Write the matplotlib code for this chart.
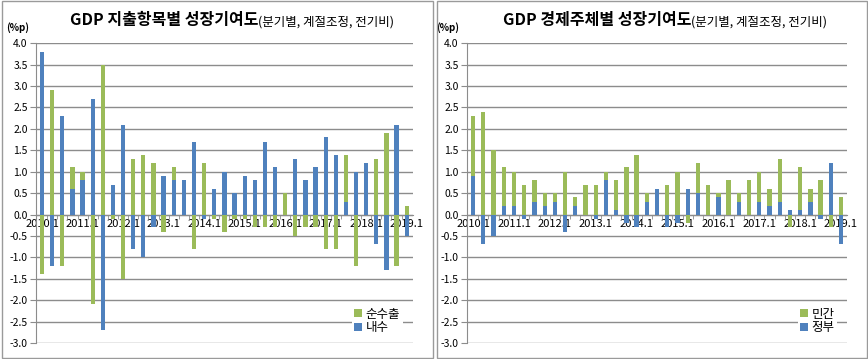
import numpy as np
import matplotlib
matplotlib.use("Agg")
import matplotlib.pyplot as plt
from matplotlib.patches import Rectangle

plt.rcParams['font.family'] = ['Noto Sans CJK KR', 'DejaVu Sans']

# ── data ──────────────────────────────────────────────────────────────────────
quarters = [f"{y}.{q}" for y in range(2010, 2020) for q in range(1, 5)][:37]

# left: 지출항목별
domestic = [3.8, -1.2, 2.3, 0.6, 0.8, 2.7, -2.7, 0.7, 2.1, -0.8, -1.0, -0.3,
            0.9, 0.8, 0.8, 1.7, -0.1, 0.6, 1.0, 0.5, 0.9, 0.8, 1.7, 1.1,
            0.0, 1.3, 0.8, 1.1, 1.8, 1.4, 0.3, 1.0, 1.2, -0.7, -1.3, 2.1, -0.5]
net_export = [-1.4, 2.9, -1.2, 0.5, 0.2, -2.1, 3.5, -0.1, -1.5, 1.3, 1.4, 1.2,
              -0.4, 0.3, 0.0, -0.8, 1.2, -0.1, -0.4, -0.1, -0.1, -0.3, -0.3, -0.3,
              0.5, -0.5, -0.3, -0.3, -0.8, -0.8, 1.1, -1.2, 0.0, 1.3, 1.9, -1.2, 0.2]

# right: 경제주체별
government = [0.9, -0.7, -0.5, 0.2, 0.2, -0.1, 0.3, 0.2, 0.3, -0.4, 0.2, 0.0,
              -0.1, 0.8, 0.1, -0.2, -0.3, 0.3, 0.6, -0.3, -0.2, 0.6, 0.5, 0.0,
              0.4, 0.0, 0.3, 0.0, 0.3, 0.2, 0.3, 0.1, 0.1, 0.3, -0.1, 1.2, -0.7]
private = [1.4, 2.4, 1.5, 0.9, 0.8, 0.7, 0.5, 0.3, 0.2, 1.0, 0.2, 0.7,
           0.7, 0.2, 0.7, 1.1, 1.4, 0.2, 0.0, 0.7, 1.0, -0.2, 0.7, 0.7,
           0.1, 0.8, 0.2, 0.8, 0.7, 0.4, 1.0, -0.3, 1.0, 0.3, 0.8, -0.3, 0.4]

yticks = np.arange(-3.0, 4.01, 0.5)

GREEN = "#9BBB59"
BLUE = "#4F81BD"
GRID = "#8c8c8c"


def draw_panel(fig, rect, frame, title, sub, blue, green, blue_lbl, green_lbl):
    fig.patches.append(Rectangle(frame[:2], frame[2], frame[3], transform=fig.transFigure,
                                 fill=False, edgecolor="#9a9a9a", lw=1.0))
    ax = fig.add_axes(rect)
    x = np.arange(len(quarters))
    blue = np.array(blue)
    green = np.array(green)
    # excel-style stacking: positives up from positive part, negatives down
    base = np.where(green >= 0, np.maximum(blue, 0), np.minimum(blue, 0))
    w = 0.42
    ax.bar(x, blue, w, color=BLUE, label=blue_lbl, zorder=3)
    ax.bar(x, green, w, bottom=base, color=GREEN, label=green_lbl, zorder=3)

    ax.set_xlim(-0.6, len(quarters) - 0.4)
    ax.set_ylim(-3.0, 4.0)
    ax.set_yticks(yticks)
    ax.set_yticklabels([f"{v:.1f}" for v in yticks], fontsize=7.5)
    ax.yaxis.grid(True, color=GRID, lw=1.0, zorder=0)
    ax.tick_params(axis="y", length=4, color=GRID, pad=2)

    ax.spines["bottom"].set_position(("data", 0))
    for s in ("top", "right"):
        ax.spines[s].set_visible(False)
    for s in ("left", "bottom"):
        ax.spines[s].set_color(GRID)
    ax.set_xticks(x[::4])
    ax.set_xticklabels(quarters[::4], fontsize=8)
    ax.tick_params(axis="x", which="major", length=0, pad=3)
    ax.set_xticks(x[:-1] + 0.5, minor=True)
    ax.tick_params(axis="x", which="minor", length=3, color=GRID, direction="out")

    ax.text(-0.05, 1.053, "(%p)", transform=ax.transAxes, fontsize=7,
            fontweight="bold", ha="center", va="center")
    ax.text(0.59, 1.077, title, transform=ax.transAxes, fontsize=11.5,
            fontweight="bold", ha="right", va="center")
    ax.text(0.59, 1.072, sub, transform=ax.transAxes, fontsize=9,
            ha="left", va="center")

    h, l = ax.get_legend_handles_labels()
    leg = ax.legend(h[::-1], l[::-1], loc="lower right", bbox_to_anchor=(0.99, 0.0),
                    fontsize=9, frameon=True, handlelength=0.6, handleheight=0.6,
                    handletextpad=0.3, labelspacing=0.05, borderpad=0.2)
    leg.get_frame().set_edgecolor("none")
    leg.get_frame().set_facecolor("white")
    leg.get_frame().set_alpha(1)
    return ax


fig = plt.figure(figsize=(8.68, 3.59), dpi=100)
draw_panel(fig, [0.0415, 0.0446, 0.434, 0.835], [0.002, 0.003, 0.497, 0.993],
           "GDP 지출항목별 성장기여도", "(분기별, 계절조정, 전기비)",
           domestic, net_export, "내수", "순수출")
draw_panel(fig, [0.538, 0.0446, 0.438, 0.835], [0.503, 0.003, 0.496, 0.993],
           "GDP 경제주체별 성장기여도", "(분기별, 계절조정, 전기비)",
           government, private, "정부", "민간")

fig.savefig("out.png", dpi=100)
